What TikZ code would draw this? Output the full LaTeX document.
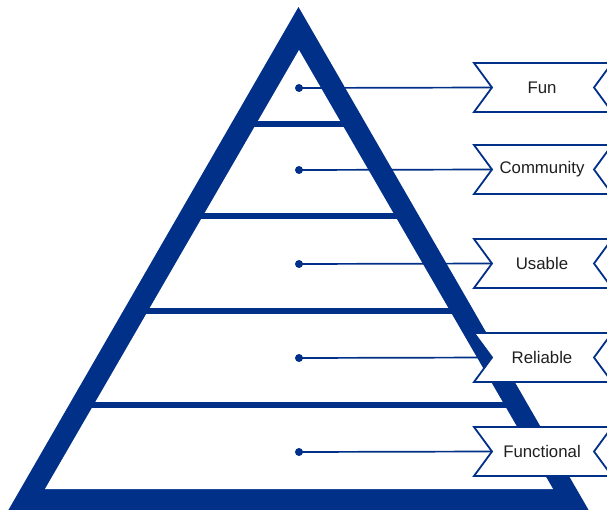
\documentclass[tikz,border=0pt]{standalone}
\usepackage{fontspec}
\setmainfont{Liberation Sans}
\definecolor{pyrblue}{RGB}{0,48,135}
\begin{document}
\begin{tikzpicture}[x=1pt,y=-1pt,
  band/.style={pyrblue,line width=5.8pt},
  dotmark/.style={circle,fill=pyrblue,inner sep=0pt,minimum size=8pt},
  tagline/.style={pyrblue,line width=1.7pt},
  tagbox/.style={draw=pyrblue,line width=1.8pt,fill=white,line join=miter},
  taglabel/.style={font=\fontsize{16.8}{19}\selectfont,text=black!88}]
\useasboundingbox (0,0) rectangle (607,510);
\clip (0,0) rectangle (607,510);
% outer and inner triangles
\fill[pyrblue] (298.5,7) -- (-6,535) -- (603,535) -- cycle;
\fill[white] (299,50) -- (45,489) -- (553,489) -- cycle;
% band separators (inner slope 254/439)
\foreach \yy in {124,216,311,405}{
  \pgfmathsetmacro{\hw}{254/439*(\yy-50)+3}
  \draw[band] ({299-\hw},\yy) -- ({299+\hw},\yy);
}
% dots
\node[dotmark] (d1) at (299,88) {};
\node[dotmark] (d2) at (299,170) {};
\node[dotmark] (d3) at (299,264) {};
\node[dotmark] (d4) at (299,358) {};
\node[dotmark] (d5) at (299,452) {};
% tags
\foreach \cy/\nm/\txt in {87.5/1/Fun,169.5/2/Community,263.5/3/Usable,357.5/4/Reliable,451.5/5/Functional}{
  \draw[tagbox] (474,\cy-24.5) -- (612,\cy-24.5) -- (594,\cy) -- (612,\cy+24.5)
     -- (474,\cy+24.5) -- (492,\cy) -- cycle;
  \coordinate (n\nm) at (492,\cy);
  \node[taglabel] (t\nm) at (542,\cy) {\txt};
}
% connectors
\foreach \i in {1,...,5}{
  \draw[tagline] (d\i.center) -- (n\i);
}
\end{tikzpicture}
\end{document}
